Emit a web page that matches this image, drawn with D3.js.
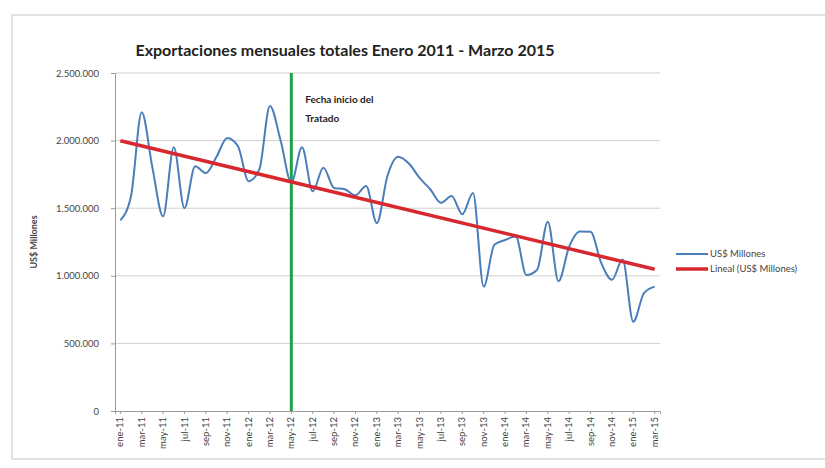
<!DOCTYPE html>
<html>
<head>
<meta charset="utf-8">
<script src="https://cdn.jsdelivr.net/npm/d3@7"></script>
<style>
  body { margin: 0; background: #fff; }
  text { font-family: Lato, "Open Sans", sans-serif; }
</style>
</head>
<body>
<svg></svg>
<script>
// months, Spanish abbreviations
var monthNames = ["ene", "feb", "mar", "abr", "may", "jun", "jul", "ago", "sep", "oct", "nov", "dic"];
var years = [11, 12, 13, 14, 15];

// monthly exports, US$ (ene-11 ... mar-15)
var exportValues = [
  1410000, 1590000, 2210000, 1800000, 1440000, 1950000, 1500000, 1810000, 1760000, 1880000, 2020000, 1960000,
  1700000, 1785000, 2255000, 2000000, 1690000, 1950000, 1625000, 1800000, 1650000, 1640000, 1595000, 1665000,
  1390000, 1740000, 1880000, 1830000, 1725000, 1640000, 1540000, 1590000, 1455000, 1612000, 920000, 1230000,
  1265000, 1290000, 1005000, 1045000, 1400000, 960000, 1215000, 1328000, 1325000, 1095000, 970000, 1120000,
  660000, 872000, 920000
];

var yTicks = [0, 500000, 1000000, 1500000, 2000000, 2500000];
var treatyMonth = "may-12";

// build the category names
var categories = [];
years.forEach(function(yr) {
  monthNames.forEach(function(m) {
    if (categories.length < exportValues.length) categories.push(m + "-" + yr);
  });
});

var svgWidth = 825, svgHeight = 468;
var svg = d3.select("svg").attr("width", svgWidth).attr("height", svgHeight);

// outer chart frame
svg.append("rect")
  .attr("x", 12).attr("y", 15)
  .attr("width", 830).attr("height", 444)
  .attr("fill", "#fff")
  .attr("stroke", "#d9d9d9")
  .attr("stroke-width", 1.5);

var plotLeft = 115, plotRight = 660, plotTop = 73, plotBottom = 411;

var x = d3.scaleBand().domain(categories).range([plotLeft, plotRight]);
var y = d3.scaleLinear().domain([0, 2500000]).range([plotBottom, plotTop]);
var cx = function(c) { return x(c) + x.bandwidth() / 2; };

// gridlines
svg.append("g").selectAll("line")
  .data(yTicks.slice(1))
  .enter().append("line")
  .attr("x1", plotLeft).attr("x2", plotRight)
  .attr("y1", function(d) { return y(d); })
  .attr("y2", function(d) { return y(d); })
  .attr("stroke", "#cfcfcf")
  .attr("stroke-width", 1);

// y axis
var fmt = function(d) { return d3.format(",")(d).replace(/,/g, "."); };
var yAxis = svg.append("g")
  .attr("transform", "translate(" + plotLeft + ",0)")
  .call(d3.axisLeft(y).tickValues(yTicks).tickFormat(fmt).tickSize(4).tickPadding(12));
yAxis.select(".domain").attr("stroke", "#9a9a9a");
yAxis.selectAll(".tick line").attr("stroke", "#9a9a9a");
yAxis.selectAll("text").attr("font-size", 9.5).attr("fill", "#444");

svg.append("text")
  .attr("transform", "translate(37," + ((plotTop + plotBottom) / 2) + ") rotate(-90)")
  .attr("text-anchor", "middle")
  .attr("font-size", 9)
  .attr("font-weight", "bold")
  .attr("fill", "#444")
  .text("US$ Millones");

// x axis
var xAxis = svg.append("g")
  .attr("transform", "translate(0," + plotBottom + ")")
  .call(d3.axisBottom(x).tickValues(categories.filter(function(c, i) { return i % 2 === 0; })).tickSize(3).tickPadding(4));
xAxis.select(".domain").attr("stroke", "#9a9a9a");
xAxis.selectAll(".tick line").attr("stroke", "#9a9a9a");
xAxis.selectAll("text")
  .attr("font-size", 9.5)
  .attr("fill", "#444")
  .attr("transform", "rotate(-90)")
  .attr("text-anchor", "end")
  .attr("dy", "0.32em")
  .attr("x", -6)
  .attr("y", 0);

// treaty start line
svg.append("line")
  .attr("x1", cx(treatyMonth)).attr("x2", cx(treatyMonth))
  .attr("y1", plotTop).attr("y2", plotBottom)
  .attr("stroke", "#21a04a")
  .attr("stroke-width", 3);

svg.append("text")
  .attr("x", cx(treatyMonth) + 14).attr("y", 103)
  .attr("font-size", 10).attr("font-weight", "bold").attr("fill", "#222")
  .text("Fecha inicio del");
svg.append("text")
  .attr("x", cx(treatyMonth) + 14).attr("y", 122)
  .attr("font-size", 10).attr("font-weight", "bold").attr("fill", "#222")
  .text("Tratado");

// data line
var line = d3.line()
  .x(function(d, i) { return cx(categories[i]); })
  .y(function(d) { return y(d); })
  .curve(d3.curveMonotoneX);

svg.append("path")
  .datum(exportValues)
  .attr("d", line)
  .attr("fill", "none")
  .attr("stroke", "#4a7ebb")
  .attr("stroke-width", 2);

// linear trend (least squares)
var n = exportValues.length;
var mx = d3.mean(exportValues, function(d, i) { return i; });
var my = d3.mean(exportValues);
var sxy = d3.sum(exportValues, function(d, i) { return (i - mx) * (d - my); });
var sxx = d3.sum(exportValues, function(d, i) { return (i - mx) * (i - mx); });
var slope = sxy / sxx, icpt = my - slope * mx;

svg.append("line")
  .attr("x1", cx(categories[0])).attr("y1", y(icpt))
  .attr("x2", cx(categories[n - 1])).attr("y2", y(icpt + slope * (n - 1)))
  .attr("stroke", "#d7282f")
  .attr("stroke-width", 3.5);

// title
svg.append("text")
  .attr("x", 345).attr("y", 56)
  .attr("text-anchor", "middle")
  .attr("font-size", 16)
  .attr("font-weight", "bold")
  .attr("fill", "#222")
  .text("Exportaciones mensuales totales Enero 2011 - Marzo 2015");

// legend
var legend = [
  { name: "US$ Millones", color: "#4a7ebb", w: 2 },
  { name: "Lineal (US$ Millones)", color: "#d7282f", w: 3.5 }
];
var lg = svg.append("g").selectAll("g")
  .data(legend)
  .enter().append("g")
  .attr("transform", function(d, i) { return "translate(676," + (254 + i * 15) + ")"; });
lg.append("line")
  .attr("x1", 0).attr("x2", 32)
  .attr("stroke", function(d) { return d.color; })
  .attr("stroke-width", function(d) { return d.w; });
lg.append("text")
  .attr("x", 34).attr("dy", "0.35em")
  .attr("font-size", 9.5).attr("fill", "#444")
  .text(function(d) { return d.name; });
</script>
</body>
</html>
